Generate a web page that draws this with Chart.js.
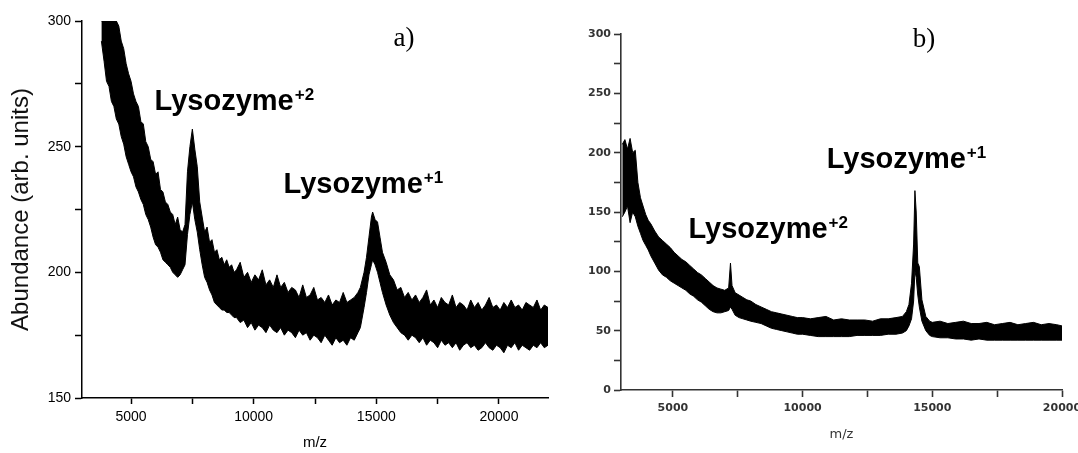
<!DOCTYPE html>
<html>
<head>
<meta charset="utf-8">
<script src="https://cdn.jsdelivr.net/npm/chart.js@4/dist/chart.umd.min.js"></script>
<style>
  html, body { margin: 0; padding: 0; background: #fff; width: 1078px; height: 453px; overflow: hidden; }
  canvas { position: absolute; top: 0; }
  #cA { left: 0; }
  #cB { left: 556px; }
</style>
</head>
<body>
<canvas id="cA" width="556" height="453"></canvas>
<canvas id="cB" width="522" height="453"></canvas>
<script>
// ---------- Panel a) data (m/z, upper and lower edge of the noisy trace) ----------
const aMz = [3790,3900,4000,4100,4200,4300,4400,4500,4600,4700,4800,4900,5000,5100,5200,5300,5400,5500,5600,5700,5800,5900,6000,6100,6200,6300,6400,6500,6600,6700,6800,6900,7000,7100,7200,7300,7400,7500,7600,7700,7800,7900,8000,8100,8200,8300,8400,8500,8600,8700,8800,8900,9000,9100,9200,
  9300,9450,9600,9750,9900,10050,10200,10350,10500,10650,10800,10950,11100,11250,11400,11550,11700,11850,12000,12150,12300,12450,12600,12750,12900,13050,13200,13350,13500,13650,13800,13950,14100,14250,
  14350,14500,14600,14700,14800,14850,14950,15050,15150,15250,15400,15550,15700,15850,
  16000,16150,16300,16450,16600,16750,16900,17050,17200,17350,17500,17650,17800,17950,18100,18250,18400,18550,18700,18850,19000,19150,19300,19450,19600,19750,19900,20050,20200,20350,20500,20650,20800,20950,21100,21250,21400,21550,21700,21850,22000];
const aHigh = [300,300,300,300,300,300,300,298,292,289,283,279,276,271,268,266,260,259,252,250,245,244,239,240,233,232,228,227,224,223,219,222,217,216,219,240,250,257,249,242,228,222,216,218,212,213,208,209,205,206,203,205,202,203,200,
  201,204,198,200,196,199,197,201,195,197,194,199,194,196,192,194,193,190,195,190,191,194,189,190,188,191,187,189,188,192,188,189,190,192,
  194,200,206,214,222,224,221,220,214,208,204,199,197,193,
  194,190,192,189,191,188,190,193,187,189,186,190,188,187,191,186,188,187,185,189,186,188,185,187,190,186,187,185,188,186,189,186,187,185,188,187,186,189,185,187,186];
const aLow = [292,284,276,274,268,266,261,259,254,251,246,243,240,238,234,232,229,227,223,221,218,214,211,210,208,205,204,203,202,200,199,198,199,201,203,215,223,228,221,216,209,203,198,196,193,191,188,187,186,185,185,184,184,183,182,
  182,180,181,178,180,177,179,178,176,179,177,176,178,175,177,176,174,177,175,176,173,175,174,172,175,173,171,174,172,173,171,174,173,176,
  178,186,192,199,203,205,203,200,196,192,187,183,180,178,
  176,175,173,175,174,172,174,171,173,172,170,173,171,172,170,172,169,171,172,170,171,169,170,172,170,169,171,170,168,171,170,172,169,171,170,169,171,170,172,170,171];
const aXTicks = [5000,7500,10000,12500,15000,17500,20000];
const aYTicks = [150,175,200,225,250,275,300];

// ---------- Panel b) data ----------
const bMz = [3050,3150,3250,3350,3450,3550,3650,3750,3850,3950,4050,4150,4300,4450,4600,4750,4900,5050,5200,5350,5500,5650,5800,5950,6100,6250,6400,6550,6700,6850,7000,7150,7220,7280,7400,7550,7700,7850,8000,8200,8400,8600,8800,9000,9200,9400,9600,9800,10000,10300,10600,10900,11200,11500,11800,12100,12400,12700,13000,13300,13600,13850,14000,14100,14200,14280,14330,14380,14440,14500,14600,14750,14900,15000,15300,15600,15900,16200,16500,16800,17100,17400,17700,18000,18300,18600,18900,19200,19500,19800,20000];
const bHigh = [207,211,203,212,200,202,175,162,155,148,143,140,134,129,126,123,120,116,113,110,108,105,102,99,97,94,91,88,86,85,84,86,107,88,82,80,78,76,75,72,70,68,66,65,64,63,62,61,61,60,61,62,59,60,59,59,59,58,60,60,61,62,66,72,90,123,168,150,107,104,76,62,58,57,58,56,57,58,56,56,57,55,56,57,55,56,57,55,56,55,54];
const bLow = [146,150,155,141,150,146,138,132,126,122,118,113,107,101,97,95,92,90,88,86,84,81,79,76,74,71,68,66,65,65,66,67,70,68,63,61,60,59,58,57,56,54,52,51,50,49,48,47,47,46,45,45,45,45,45,46,46,46,46,47,47,48,50,54,60,75,100,95,80,70,58,50,46,45,44,44,43,43,42,43,42,42,42,42,42,42,42,42,42,42,42];
const bXTicks = [5000,7500,10000,12500,15000,17500,20000];
const bYTicks = [0,25,50,75,100,125,150,175,200,225,250,275,300];

// ---------- text labels (anchored in data coordinates) ----------
const aLabels = [
  { text: 'a)', x: 15700, y: 290, font: '27px "Liberation Serif"' },
  { text: 'Lysozyme', sup: '+2', x: 5960, y: 264.6, font: 'bold 29px "Liberation Sans"', supFont: 'bold 17px "Liberation Sans"' },
  { text: 'Lysozyme', sup: '+1', x: 11220, y: 231.6, font: 'bold 29px "Liberation Sans"', supFont: 'bold 17px "Liberation Sans"' }
];
const bLabels = [
  { text: 'b)', x: 14250, y: 289, font: '27px "Liberation Serif"' },
  { text: 'Lysozyme', sup: '+1', x: 10930, y: 187, font: 'bold 29px "Liberation Sans"', supFont: 'bold 17px "Liberation Sans"' },
  { text: 'Lysozyme', sup: '+2', x: 5600, y: 128, font: 'bold 29px "Liberation Sans"', supFont: 'bold 17px "Liberation Sans"' }
];

const textPlugin = {
  id: 'peakText',
  afterDatasetsDraw(chart, args, opts) {
    const { ctx, scales } = chart;
    ctx.save();
    ctx.textBaseline = 'alphabetic';
    ctx.textAlign = 'left';
    for (const t of opts.items) {
      const px = scales.x.getPixelForValue(t.x);
      const py = scales.y.getPixelForValue(t.y);
      ctx.fillStyle = opts.color;
      ctx.font = t.font;
      ctx.fillText(t.text, px, py);
      if (t.sup) {
        const w = ctx.measureText(t.text).width;
        ctx.font = t.supFont;
        ctx.fillText(t.sup, px + w + 1, py - 10);
      }
    }
    ctx.restore();
  }
};

function pts(xs, ys) { return xs.map((x, i) => ({ x: x, y: ys[i] })); }

function makeChart(id, cfg) {
  const fixTicks = (arr) => (scale) => { scale.ticks = arr.map(v => ({ value: v })); };
  const fit = (prop, size) => (scale) => {
    scale[prop] = size;
    scale.paddingLeft = 0; scale.paddingRight = 0; scale.paddingTop = 0; scale.paddingBottom = 0;
  };
  return new Chart(document.getElementById(id), {
    type: 'line',
    data: {
      datasets: [
        { data: pts(cfg.mz, cfg.high), borderColor: '#000', backgroundColor: '#000', borderWidth: 1, pointRadius: 0, fill: '+1', tension: 0 },
        { data: pts(cfg.mz, cfg.low), borderColor: '#000', backgroundColor: '#000', borderWidth: 1, pointRadius: 0, fill: false, tension: 0 }
      ]
    },
    options: {
      responsive: false,
      animation: false,
      devicePixelRatio: 1,
      layout: { padding: cfg.padding },
      plugins: {
        legend: { display: false },
        tooltip: { enabled: false },
        peakText: { items: cfg.labels, color: cfg.textColor }
      },
      scales: {
        x: {
          type: 'linear', min: cfg.xMin, max: cfg.xMax,
          border: { display: true, color: cfg.axisColor, width: cfg.axisWidth },
          grid: { drawOnChartArea: false, drawTicks: true, tickLength: cfg.xTickLen, tickColor: cfg.axisColor, tickWidth: cfg.axisWidth },
          ticks: {
            color: cfg.tickColor, font: cfg.tickFont, padding: cfg.xTickPad, maxRotation: 0, autoSkip: false,
            callback: (v) => (v % 5000 === 0 ? String(v) : '')
          },
          afterBuildTicks: fixTicks(cfg.xTicks),
          afterFit: fit('height', cfg.xAxisH),
          title: { display: true, text: 'm/z', color: cfg.tickColor, font: cfg.xTitleFont, padding: { top: cfg.xTitlePad, bottom: cfg.xTitlePad } }
        },
        y: {
          type: 'linear', min: cfg.yMin, max: cfg.yMax,
          border: { display: true, color: cfg.axisColor, width: cfg.axisWidth },
          grid: { drawOnChartArea: false, drawTicks: true, tickLength: cfg.yTickLen, tickColor: cfg.axisColor, tickWidth: cfg.axisWidth },
          ticks: {
            color: cfg.tickColor, font: cfg.tickFont, padding: cfg.yTickPad, autoSkip: false,
            callback: (v) => (v % 50 === 0 ? String(v) : '')
          },
          afterBuildTicks: fixTicks(cfg.yTicks),
          afterFit: fit('width', cfg.yAxisW),
          title: cfg.yTitle
        }
      }
    },
    plugins: [textPlugin]
  });
}

makeChart('cA', {
  mz: aMz, high: aHigh, low: aLow, labels: aLabels, textColor: '#000',
  xMin: 3000, xMax: 22000, yMin: 150, yMax: 300, xTicks: aXTicks, yTicks: aYTicks,
  padding: { top: 21, right: 8, bottom: 0, left: 0 },
  axisColor: '#000', axisWidth: 1.5, tickColor: '#000',
  tickFont: { family: '"Liberation Sans"', size: 14 },
  xTickLen: 6, yTickLen: 7, xTickPad: 5, yTickPad: 4,
  xAxisH: 55, yAxisW: 82,
  xTitleFont: { family: '"Liberation Sans"', size: 15 }, xTitlePad: 1,
  yTitle: { display: true, text: 'Abundance (arb. units)', color: '#111', font: { family: '"Liberation Sans"', size: 24 }, padding: { top: 7, bottom: 7 } }
});

makeChart('cB', {
  mz: bMz, high: bHigh, low: bLow, labels: bLabels, textColor: '#000',
  xMin: 3000, xMax: 20000, yMin: 0, yMax: 300, xTicks: bXTicks, yTicks: bYTicks,
  padding: { top: 34, right: 16, bottom: 0, left: 0 },
  axisColor: '#333', axisWidth: 1.6, tickColor: '#333',
  tickFont: { family: '"DejaVu Sans"', size: 11, weight: 'bold' },
  xTickLen: 7, yTickLen: 7, xTickPad: 5, yTickPad: 3,
  xAxisH: 63, yAxisW: 65,
  xTitleFont: { family: '"DejaVu Sans"', size: 13 }, xTitlePad: 11,
  yTitle: { display: false }
});
</script>
</body>
</html>
